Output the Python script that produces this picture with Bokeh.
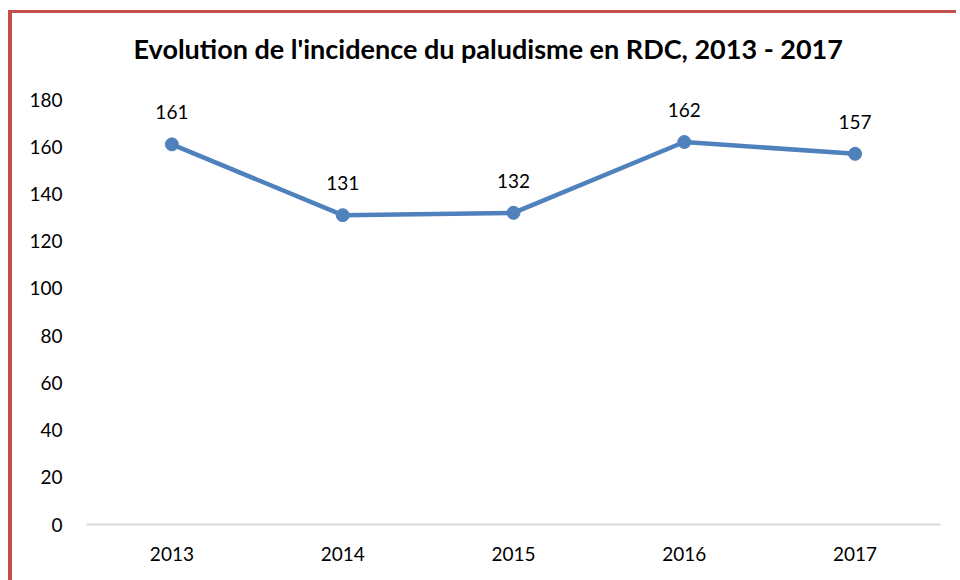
from bokeh.plotting import figure
from bokeh.models import ColumnDataSource, LabelSet, Range1d, Title
from bokeh.core.properties import value
from bokeh.embed import file_html
from bokeh.resources import INLINE

years = ["2013", "2014", "2015", "2016", "2017"]
incidence = [161, 131, 132, 162, 157]
y_ticks = [0, 20, 40, 60, 80, 100, 120, 140, 160, 180]
title_text = "Evolution de l'incidence du paludisme en RDC, 2013 - 2017"

src = ColumnDataSource(data=dict(x=years, y=incidence, lbl=[str(v) for v in incidence]))

p = figure(x_range=years, y_range=Range1d(0, 180), width=948, height=570,
           output_backend="svg", toolbar_location=None, title=None,
           min_border_left=74, min_border_right=20, min_border_top=85, min_border_bottom=59)
p.styles = {"border-left": "4px solid #C0504D", "border-top": "3px solid #C0504D",
            "margin-left": "8px", "margin-top": "10px"}

spacer = Title(text=" ", text_font_size="10px", standoff=2)
p.add_layout(spacer, "above")
main_title = Title(text=title_text, text_font="Lato", text_font_style="bold",
                   text_font_size="27px", align="left", offset=47,
                   vertical_align="top", standoff=36, text_color="#000000")
p.add_layout(main_title, "above")

p.outline_line_color = None
p.xgrid.grid_line_color = None
p.ygrid.grid_line_color = None

p.xaxis.axis_line_color = "#D9D9D9"
p.xaxis.axis_line_width = 2
p.xaxis.major_tick_line_color = None
p.xaxis.minor_tick_line_color = None
p.xaxis.major_label_text_font = "Lato"
p.xaxis.major_label_text_font_size = "19px"
p.xaxis.major_label_text_color = "#000000"
p.xaxis.major_label_standoff = 16

p.yaxis.ticker = y_ticks
p.yaxis.axis_line_color = None
p.yaxis.major_tick_line_color = None
p.yaxis.minor_tick_line_color = None
p.yaxis.major_label_text_font = "Lato"
p.yaxis.major_label_text_font_size = "19px"
p.yaxis.major_label_text_color = "#000000"
p.yaxis.major_label_standoff = 18

p.line("x", "y", source=src, line_color="#4F81BD", line_width=4.5)
p.scatter("x", "y", source=src, size=13, fill_color="#4F81BD", line_color="#4F81BD")

labels = LabelSet(x="x", y="y", text="lbl", source=src, y_offset=32,
                  text_align="center", text_baseline="middle",
                  text_font=value("Lato"), text_font_size="19px", text_color="#000000")
p.add_layout(labels)

open("out.html", "w").write(file_html(p, INLINE))
